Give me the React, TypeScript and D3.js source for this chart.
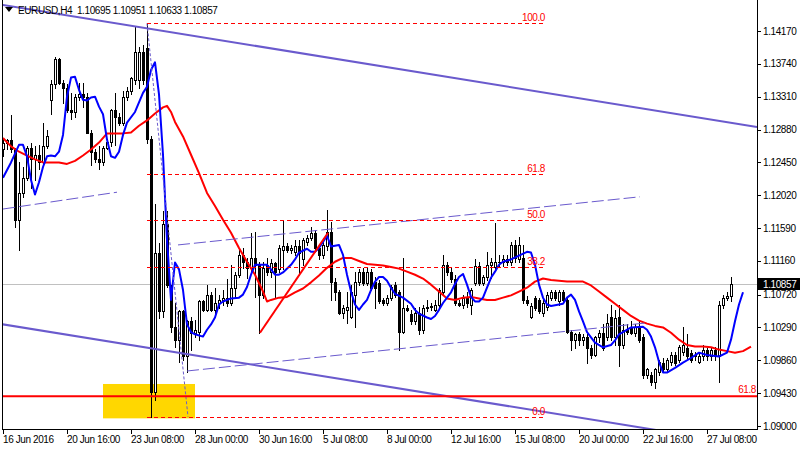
import React from 'react';
import * as d3 from 'd3';

// ---------- DATA ----------
const barOpen = [
  1.1262, 1.1271, 1.1274, 1.1262, 1.1170, 1.1205, 1.1225, 1.1264, 1.1249, 1.1255,
  1.1245, 1.1266, 1.1327, 1.1347, 1.1380, 1.1349, 1.1343, 1.1314, 1.1311, 1.1331,
  1.1334, 1.1330, 1.1284, 1.1259, 1.1249, 1.1245, 1.1264, 1.1272, 1.1314, 1.1304,
  1.1297, 1.1331, 1.1338, 1.1353, 1.1353, 1.1390, 1.1395, 1.1275, 1.0945, 1.1127,
  1.1050, 1.1164, 1.1080, 1.1029, 1.1013, 1.1050, 1.0991, 1.1037, 1.1022, 1.1023,
  1.1063, 1.1052, 1.1072, 1.1052, 1.1061, 1.1065, 1.1068, 1.1061, 1.1081, 1.1098,
  1.1124, 1.1115, 1.1107, 1.1120, 1.1111, 1.1072, 1.1111, 1.1102, 1.1113, 1.1105,
  1.1131, 1.1136, 1.1131, 1.1128, 1.1136, 1.1118, 1.1141, 1.1146, 1.1153, 1.1133,
  1.1124, 1.1135, 1.1154, 1.1089, 1.1075, 1.1048, 1.1052, 1.1043, 1.1072, 1.1089,
  1.1101, 1.1087, 1.1102, 1.1089, 1.1087, 1.1065, 1.1061, 1.1068, 1.1084, 1.1075,
  1.1023, 1.1055, 1.1046, 1.1037, 1.1048, 1.1026, 1.1055, 1.1056, 1.1052, 1.1059,
  1.1076, 1.1111, 1.1102, 1.1092, 1.1061, 1.1059, 1.1069, 1.1059, 1.1087, 1.1109,
  1.1087, 1.1095, 1.1111, 1.1108, 1.1115, 1.1114, 1.1118, 1.1114, 1.1137, 1.1118,
  1.1120, 1.1065, 1.1043, 1.1068, 1.1065, 1.1048, 1.1056, 1.1068, 1.1076, 1.1063,
  1.1076, 1.1065, 1.1023, 1.1013, 1.1020, 1.1013, 1.1016, 1.1002, 1.0993, 1.1016,
  1.1022, 1.1016, 1.1043, 1.1016, 1.1043, 1.1006, 1.1026, 1.1030, 1.1022, 1.1030,
  1.1016, 1.0967, 1.0967, 1.0958, 1.0971, 1.0983, 1.0974, 1.0984, 1.0993, 1.0987,
  1.0997, 1.1002, 1.0996, 1.0991, 1.0984, 1.0991, 1.1000, 1.0991, 1.1000, 1.0991,
  1.1059, 1.1068, 1.10695,
];
const barHigh = [
  1.1276, 1.1276, 1.1307, 1.1264, 1.1245, 1.1239, 1.1267, 1.1271, 1.1266, 1.1268,
  1.1297, 1.1288, 1.1353, 1.1383, 1.1382, 1.1353, 1.1347, 1.1336, 1.1334, 1.1349,
  1.1349, 1.1336, 1.1288, 1.1262, 1.1266, 1.1266, 1.1275, 1.1315, 1.1336, 1.1310,
  1.1338, 1.1344, 1.1357, 1.1423, 1.1396, 1.1399, 1.1427, 1.1280, 1.1190, 1.1140,
  1.1181, 1.1181, 1.1085, 1.1061, 1.1052, 1.1052, 1.1039, 1.1043, 1.1039, 1.1065,
  1.1065, 1.1085, 1.1075, 1.1081, 1.1072, 1.1078, 1.1092, 1.1111, 1.1102, 1.1131,
  1.1133, 1.1120, 1.1153, 1.1154, 1.1115, 1.1114, 1.1120, 1.1118, 1.1115, 1.1137,
  1.1170, 1.1140, 1.1137, 1.1144, 1.1144, 1.1146, 1.1150, 1.1160, 1.1157, 1.1137,
  1.1146, 1.1183, 1.1167, 1.1094, 1.1078, 1.1059, 1.1075, 1.1085, 1.1101, 1.1105,
  1.1107, 1.1107, 1.1105, 1.1095, 1.1091, 1.1068, 1.1072, 1.1085, 1.1088, 1.1078,
  1.1120, 1.1059, 1.1052, 1.1055, 1.1056, 1.1059, 1.1065, 1.1061, 1.1065, 1.1081,
  1.1124, 1.1115, 1.1107, 1.1098, 1.1065, 1.1072, 1.1075, 1.1081, 1.1118, 1.1114,
  1.1098, 1.1128, 1.1120, 1.1166, 1.1124, 1.1124, 1.1124, 1.1141, 1.1144, 1.1148,
  1.1137, 1.1070, 1.1061, 1.1070, 1.1068, 1.1065, 1.1075, 1.1078, 1.1078, 1.1078,
  1.1078, 1.1068, 1.1026, 1.1022, 1.1023, 1.1020, 1.1020, 1.1006, 1.1018, 1.1026,
  1.1033, 1.1046, 1.1059, 1.1052, 1.1059, 1.1033, 1.1033, 1.1037, 1.1033, 1.1037,
  1.1020, 1.0976, 1.0971, 1.0976, 1.0987, 1.0989, 1.0989, 1.0997, 1.0997, 1.1006,
  1.1030, 1.1020, 1.1000, 1.0997, 1.0997, 1.1006, 1.1002, 1.1004, 1.1004, 1.1063,
  1.1072, 1.1075, 1.10951,
];
const barLow = [
  1.1254, 1.1262, 1.1259, 1.1161, 1.1131, 1.1200, 1.1222, 1.1212, 1.1222, 1.1236,
  1.1242, 1.1264, 1.1308, 1.1343, 1.1347, 1.1323, 1.1311, 1.1302, 1.1304, 1.1327,
  1.1318, 1.1283, 1.1242, 1.1245, 1.1236, 1.1241, 1.1262, 1.1266, 1.1268, 1.1294,
  1.1294, 1.1327, 1.1334, 1.1348, 1.1343, 1.1347, 1.1271, 1.0912, 1.0934, 1.1042,
  1.1043, 1.1082, 1.1023, 1.1004, 1.0984, 1.0987, 1.0971, 1.1000, 1.1016, 1.1013,
  1.1050, 1.1050, 1.1050, 1.1048, 1.1055, 1.1059, 1.1057, 1.1059, 1.1069, 1.1095,
  1.1107, 1.1094, 1.1102, 1.1069, 1.1022, 1.1068, 1.1098, 1.1095, 1.1069, 1.1102,
  1.1105, 1.1128, 1.1127, 1.1124, 1.1098, 1.1111, 1.1137, 1.1144, 1.1131, 1.1118,
  1.1120, 1.1131, 1.1065, 1.1065, 1.1046, 1.1042, 1.1035, 1.1042, 1.1029, 1.1085,
  1.1085, 1.1085, 1.1078, 1.1055, 1.1061, 1.1059, 1.1059, 1.1065, 1.1069, 1.1000,
  1.1022, 1.1050, 1.1033, 1.1033, 1.1020, 1.1022, 1.1050, 1.1052, 1.1050, 1.1055,
  1.1072, 1.1098, 1.1089, 1.1059, 1.1057, 1.1055, 1.1056, 1.1046, 1.1085, 1.1085,
  1.1085, 1.1091, 1.1094, 1.1105, 1.1110, 1.1110, 1.1111, 1.1111, 1.1115, 1.1115,
  1.1061, 1.1059, 1.1042, 1.1052, 1.1048, 1.1044, 1.1052, 1.1065, 1.1065, 1.1059,
  1.1061, 1.1022, 1.1000, 1.1002, 1.1006, 1.1006, 1.0983, 1.0989, 1.0991, 1.1010,
  1.1000, 1.1013, 1.1013, 1.1006, 1.0978, 1.1002, 1.1020, 1.1020, 1.1018, 1.1010,
  1.0963, 1.0963, 1.0954, 1.0950, 1.0967, 1.0971, 1.0971, 1.0980, 1.0980, 1.0984,
  1.0993, 1.0989, 1.0984, 1.0987, 1.0982, 1.0987, 1.0987, 1.0987, 1.0987, 1.0957,
  1.1055, 1.1065, 1.10633,
];
const barClose = [
  1.1271, 1.1274, 1.1262, 1.1170, 1.1205, 1.1225, 1.1264, 1.1249, 1.1255, 1.1245,
  1.1266, 1.1279, 1.1347, 1.1380, 1.1349, 1.1343, 1.1314, 1.1311, 1.1331, 1.1334,
  1.1330, 1.1284, 1.1259, 1.1249, 1.1245, 1.1264, 1.1272, 1.1314, 1.1304, 1.1297,
  1.1331, 1.1338, 1.1356, 1.1390, 1.1390, 1.1353, 1.1275, 1.0945, 1.1127, 1.1050,
  1.1164, 1.1085, 1.1029, 1.1013, 1.1050, 1.0991, 1.1037, 1.1022, 1.1026, 1.1063,
  1.1052, 1.1072, 1.1052, 1.1061, 1.1065, 1.1068, 1.1061, 1.1081, 1.1098, 1.1124,
  1.1115, 1.1107, 1.1120, 1.1111, 1.1072, 1.1107, 1.1102, 1.1113, 1.1101, 1.1133,
  1.1136, 1.1131, 1.1133, 1.1136, 1.1127, 1.1144, 1.1146, 1.1153, 1.1133, 1.1124,
  1.1137, 1.1154, 1.1089, 1.1076, 1.1048, 1.1055, 1.1056, 1.1075, 1.1089, 1.1101,
  1.1087, 1.1102, 1.1081, 1.1081, 1.1063, 1.1061, 1.1068, 1.1082, 1.1072, 1.1023,
  1.1055, 1.1052, 1.1037, 1.1048, 1.1026, 1.1055, 1.1056, 1.1057, 1.1059, 1.1078,
  1.1111, 1.1102, 1.1092, 1.1061, 1.1059, 1.1068, 1.1061, 1.1078, 1.1109, 1.1087,
  1.1095, 1.1111, 1.1115, 1.1115, 1.1114, 1.1118, 1.1115, 1.1137, 1.1120, 1.1137,
  1.1065, 1.1061, 1.1057, 1.1055, 1.1050, 1.1061, 1.1072, 1.1076, 1.1068, 1.1076,
  1.1065, 1.1023, 1.1013, 1.1020, 1.1013, 1.1016, 1.1002, 1.0993, 1.1016, 1.1022,
  1.1002, 1.1035, 1.1016, 1.1042, 1.1006, 1.1026, 1.1023, 1.1022, 1.1029, 1.1013,
  1.0967, 1.0974, 1.0958, 1.0974, 1.0984, 1.0974, 1.0987, 1.0993, 1.0983, 1.1004,
  1.1006, 1.0991, 1.0987, 1.0993, 1.0992, 1.1000, 1.0991, 1.1000, 1.0991, 1.1059,
  1.1068, 1.10695, 1.10857,
];

// fast moving average (blue), sampled at bar indices
const blueIdx = [0, 2, 4, 5, 6, 7, 8, 9, 10, 11, 12, 13, 14, 15, 16, 17, 18, 19, 20, 21, 22, 23, 24, 25, 26, 27, 28, 29, 30, 31, 33, 35, 36, 37, 38, 39, 40, 41, 42, 43, 44, 45, 46, 47, 48, 50, 51, 52, 53, 54, 55, 57, 59, 60, 61, 62, 63, 66, 67, 68, 69, 70, 72, 73, 74, 76, 77, 78, 79, 80, 81, 82, 83, 84, 85, 86, 87, 88, 89, 90, 91, 92, 93, 94, 95, 96, 97, 98, 100, 102, 103, 104, 106, 107, 108, 109, 110, 111, 112, 113, 114, 115, 116, 117, 118, 119, 120, 121, 122, 123, 124, 125, 127, 129, 131, 132, 133, 134, 135, 136, 137, 140, 141, 142, 143, 144, 145, 146, 147, 148, 150, 152, 153, 154, 155, 157, 160, 161, 162, 163, 164, 165, 166, 168, 170, 172, 174, 176, 179, 181, 182, 183, 184, 185];
const blueVal = [1.1225, 1.1245, 1.1268, 1.1268, 1.1253, 1.1222, 1.1203, 1.1219, 1.1239, 1.1253, 1.1254, 1.1253, 1.1259, 1.1281, 1.1331, 1.1356, 1.1357, 1.1340, 1.1327, 1.1326, 1.1330, 1.1331, 1.1318, 1.1308, 1.1275, 1.1253, 1.1251, 1.1259, 1.1281, 1.1297, 1.1311, 1.1336, 1.1344, 1.1366, 1.1376, 1.1334, 1.1255, 1.1144, 1.1065, 1.1114, 1.1105, 1.1078, 1.1033, 1.1023, 1.1020, 1.1017, 1.1026, 1.1033, 1.1042, 1.1059, 1.1063, 1.1067, 1.1068, 1.1072, 1.1082, 1.1098, 1.1111, 1.1111, 1.1105, 1.1098, 1.1098, 1.1101, 1.1111, 1.1118, 1.1127, 1.1132, 1.1128, 1.1128, 1.1133, 1.1141, 1.1149, 1.1135, 1.1136, 1.1137, 1.1124, 1.1098, 1.1076, 1.1059, 1.1052, 1.1059, 1.1065, 1.1078, 1.1089, 1.1095, 1.1095, 1.1090, 1.1081, 1.1073, 1.1068, 1.1060, 1.1052, 1.1047, 1.1042, 1.1040, 1.1044, 1.1052, 1.1061, 1.1068, 1.1075, 1.1086, 1.1095, 1.1099, 1.1085, 1.1069, 1.1063, 1.1063, 1.1068, 1.1081, 1.1094, 1.1102, 1.1111, 1.1115, 1.1118, 1.1123, 1.1128, 1.1127, 1.1111, 1.1085, 1.1068, 1.1059, 1.1057, 1.1060, 1.1068, 1.1072, 1.1065, 1.1050, 1.1037, 1.1023, 1.1016, 1.1009, 1.1003, 1.1006, 1.1012, 1.1020, 1.1023, 1.1029, 1.1030, 1.1026, 1.1017, 1.1003, 1.0984, 1.0970, 1.0970, 1.0976, 1.0983, 1.0989, 1.0996, 1.0993, 1.0991, 1.0996, 1.1013, 1.1037, 1.1059, 1.1075];

// slow moving average (red), sampled at bar indices
const redIdx = [0, 2, 4, 6, 8, 10, 12, 14, 16, 18, 20, 22, 24, 26, 28, 30, 32, 34, 36, 38, 40, 41, 42, 43, 45, 47, 49, 51, 53, 55, 57, 59, 61, 63, 65, 66, 67, 69, 71, 73, 75, 77, 79, 81, 83, 85, 87, 89, 91, 93, 95, 97, 99, 101, 103, 105, 107, 109, 111, 113, 115, 117, 119, 121, 123, 125, 127, 129, 131, 133, 135, 137, 139, 141, 143, 145, 147, 149, 151, 153, 155, 157, 159, 161, 163, 165, 167, 169, 171, 173, 175, 177, 179, 181, 183, 185, 187];
const redVal = [1.1277, 1.1266, 1.1259, 1.1254, 1.1249, 1.1245, 1.1245, 1.1245, 1.1243, 1.1247, 1.1254, 1.1262, 1.1271, 1.1283, 1.1283, 1.1283, 1.1284, 1.1293, 1.1300, 1.1309, 1.1317, 1.1319, 1.1311, 1.1298, 1.1279, 1.1255, 1.1231, 1.1205, 1.1188, 1.1170, 1.1153, 1.1133, 1.1115, 1.1098, 1.1076, 1.1063, 1.1065, 1.1068, 1.1069, 1.1075, 1.1080, 1.1088, 1.1097, 1.1107, 1.1115, 1.1120, 1.1120, 1.1116, 1.1112, 1.1111, 1.1110, 1.1108, 1.1106, 1.1102, 1.1098, 1.1093, 1.1085, 1.1076, 1.1067, 1.1065, 1.1068, 1.1069, 1.1067, 1.1065, 1.1065, 1.1068, 1.1071, 1.1076, 1.1081, 1.1089, 1.1093, 1.1091, 1.1090, 1.1089, 1.1089, 1.1089, 1.1084, 1.1076, 1.1068, 1.1060, 1.1052, 1.1044, 1.1038, 1.1034, 1.1031, 1.1029, 1.1022, 1.1013, 1.1006, 1.1004, 1.1004, 1.1003, 1.1000, 1.0998, 1.0996, 1.0998, 1.1004];

const priceTicks = [1.1417, 1.1374, 1.1331, 1.1288, 1.1245, 1.1202, 1.1159, 1.1116, 1.1072, 1.1029, 1.0986, 1.0943, 1.0900];
const priceTickLabels = ['1.14170', '1.13740', '1.13310', '1.12880', '1.12450', '1.12020', '1.11590', '1.11160', '1.10720', '1.10290', '1.09860', '1.09430', '1.09000'];
const timeTickBars = [0, 16, 32, 48, 64, 80, 96, 112, 128, 144, 160, 176];
const timeTickLabels = ['16 Jun 2016', '20 Jun 16:00', '23 Jun 08:00', '28 Jun 00:00', '30 Jun 16:00', '5 Jul 08:00', '8 Jul 00:00', '12 Jul 16:00', '15 Jul 08:00', '20 Jul 00:00', '22 Jul 16:00', '27 Jul 08:00'];

const headerText = 'EURUSD,H4  1.10695 1.10951 1.10633 1.10857';
const lastPrice = 1.10857;
const lastPriceLabel = '1.10857';

// Fibonacci retracement
const fibHigh = 1.1427;
const fibLow = 1.0912;
const fibStartBar = 36;
const fibEndBar = 135.5;
const fibBaseEndBar = 46.25;
const fibLevels = [0, 0.382, 0.5, 0.618, 1];
const fibLabels = ['0.0', '38.2', '50.0', '61.8', '100.0'];

// horizontal level
const hLevelPrice = 1.0939;
const hLevelLabel = '61.8';

// highlighted zone
const zoneBars = [25, 48];
const zonePrices = [1.0955, 1.0910];

// trend channel (thick) – two anchor points each
const channelTop = [[0, 1.1451], [180, 1.12986]];
const channelBottom = [[0, 1.1033], [150, 1.0906]];
// thin dashed trend lines (segments)
const dashedSegments = [
  [[0, 1.1184], [28.5, 1.1206]],
  [[43.75, 1.1137], [159.25, 1.1200]],
  [[46, 1.0972], [161, 1.1035]],
];
// red trend line
const redTrend = [[64.25, 1.1022], [81.25, 1.1153]];

const FONT = "'Liberation Sans', Arial, sans-serif";
const CH = '#6A5ACD';

export default function App() {
  const PL = 2, PR = 757, PB = 429;
  const x = d3.scaleLinear().domain([0, 182]).range([3, 731]);
  const y = d3.scaleLinear().domain([1.09, 1.1417]).range([426, 31]);

  const bluePts: [number, number][] = blueIdx.map((b, k) => [x(b), y(blueVal[k])]);
  const redPts: [number, number][] = redIdx.map((b, k) => [x(b), y(redVal[k])]);
  const lineGen = d3.line<[number, number]>().x(d => d[0]).y(d => d[1]).curve(d3.curveLinear);

  const extend = (pts: number[][]) => {
    const x1 = x(pts[0][0]), y1 = y(pts[0][1]);
    const x2 = x(pts[1][0]), y2 = y(pts[1][1]);
    const s = (y2 - y1) / (x2 - x1);
    return { x1: PL, y1: y1 + s * (PL - x1), x2: PR, y2: y1 + s * (PR - x1) };
  };
  const ct = extend(channelTop);
  const cb = extend(channelBottom);

  const fibRange = fibHigh - fibLow;
  const ts = { fontFamily: FONT, fontSize: 10, letterSpacing: '-0.4px' } as React.CSSProperties;

  return (
    <svg width={800} height={450} style={{ position: 'fixed', left: 0, top: 0, background: '#fff' }}>
      <defs>
        <clipPath id="plotClip">
          <rect x={PL + 1} y={0} width={PR - PL - 1} height={PB} />
        </clipPath>
      </defs>
      <rect x={0} y={0} width={800} height={450} fill="#fff" />

      <g clipPath="url(#plotClip)">
        {/* highlighted zone */}
        <rect x={x(zoneBars[0])} y={y(zonePrices[0])} width={x(zoneBars[1]) - x(zoneBars[0])} height={y(zonePrices[1]) - y(zonePrices[0])} fill="#FFD700" />
        {/* current price line */}
        <line x1={PL} x2={PR} y1={Math.round(y(lastPrice)) + 0.5} y2={Math.round(y(lastPrice)) + 0.5} stroke="#C0C0C0" strokeWidth={1} />

        {/* candles */}
        <g shapeRendering="crispEdges">
          {barOpen.map((o, i) => {
            const c = barClose[i];
            const cx = Math.round(x(i));
            const yo = Math.round(y(o)), yc = Math.round(y(c));
            const yh = Math.round(y(barHigh[i])), yl = Math.round(y(barLow[i]));
            const top = Math.min(yo, yc), bot = Math.max(yo, yc);
            const bull = c >= o;
            return (
              <g key={i}>
                <line x1={cx + 0.5} x2={cx + 0.5} y1={yh} y2={yl + 1} stroke="#000" strokeWidth={1} />
                {bot - top < 1 ? (
                  <line x1={cx - 1} x2={cx + 2} y1={top + 0.5} y2={top + 0.5} stroke="#000" strokeWidth={1} />
                ) : (
                  <rect x={cx - 0.5} y={top + 0.5} width={2} height={bot - top} fill={bull ? '#fff' : '#000'} stroke="#000" strokeWidth={1} />
                )}
              </g>
            );
          })}
        </g>

        {/* moving averages */}
        <path d={lineGen(redPts) || ''} fill="none" stroke="#FF0000" strokeWidth={2} strokeLinejoin="round" />
        <path d={lineGen(bluePts) || ''} fill="none" stroke="#0000FF" strokeWidth={2} strokeLinejoin="round" />

        {/* trend channel */}
        <line {...ct} stroke={CH} strokeWidth={2} />
        <line {...cb} stroke={CH} strokeWidth={2} />
        {dashedSegments.map((s, k) => (
          <line key={k} x1={x(s[0][0])} y1={y(s[0][1])} x2={x(s[1][0])} y2={y(s[1][1])} stroke={CH} strokeWidth={1} strokeDasharray="12,4" />
        ))}

        {/* red trend line */}
        <line x1={x(redTrend[0][0])} y1={y(redTrend[0][1])} x2={x(redTrend[1][0])} y2={y(redTrend[1][1])} stroke="#FF0000" strokeWidth={2} />

        {/* fibonacci */}
        <line x1={x(fibStartBar)} y1={y(fibHigh)} x2={x(fibBaseEndBar)} y2={y(fibLow)} stroke={CH} strokeWidth={1} strokeDasharray="3,2" />
        {fibLevels.map((lv, k) => {
          const yy = Math.round(y(fibLow + lv * fibRange)) + 0.5;
          return (
            <g key={k}>
              <line x1={x(fibStartBar)} x2={x(fibEndBar)} y1={yy} y2={yy} stroke="#FF0000" strokeWidth={1} strokeDasharray="4,3" />
              <text x={x(fibEndBar)} y={yy - 3} textAnchor="end" fill="#FF0000" style={ts}>{fibLabels[k]}</text>
            </g>
          );
        })}

        {/* horizontal level */}
        <line x1={PL} x2={PR} y1={y(hLevelPrice)} y2={y(hLevelPrice)} stroke="#FF0000" strokeWidth={2} />
        <text x={PR - 1} y={y(hLevelPrice) - 3} textAnchor="end" fill="#FF0000" style={ts}>{hLevelLabel}</text>
      </g>

      {/* frame */}
      <g shapeRendering="crispEdges">
        <line x1={PL + 0.5} x2={PL + 0.5} y1={0} y2={PB + 0.5} stroke="#000" />
        <line x1={PR + 0.5} x2={PR + 0.5} y1={0} y2={PB + 0.5} stroke="#000" />
        <line x1={PL} x2={PR + 1} y1={PB + 0.5} y2={PB + 0.5} stroke="#000" />
        {priceTicks.map((p, k) => (
          <line key={k} x1={PR + 1} x2={PR + 4} y1={Math.round(y(p)) + 0.5} y2={Math.round(y(p)) + 0.5} stroke="#000" />
        ))}
        {timeTickBars.map((b, k) => (
          <line key={k} x1={Math.round(x(b)) + 0.5} x2={Math.round(x(b)) + 0.5} y1={PB} y2={PB + 5} stroke="#000" />
        ))}
      </g>

      {/* price axis labels */}
      {priceTicks.map((p, k) => (
        <text key={k} x={PR + 6} y={y(p) + 3.5} fill="#000" style={ts}>{priceTickLabels[k]}</text>
      ))}
      {/* last price tag */}
      <rect x={PR + 1} y={Math.round(y(lastPrice)) - 6} width={43} height={12} fill="#000" />
      <text x={PR + 6} y={y(lastPrice) + 3.5} fill="#fff" style={ts}>{lastPriceLabel}</text>

      {/* time axis labels */}
      {timeTickBars.map((b, k) => (
        <text key={k} x={Math.round(x(b))} y={443} fill="#000" style={ts}>{timeTickLabels[k]}</text>
      ))}

      {/* header */}
      <polygon points="5,7 13,7 9,12" fill="#000" />
      <text x={18} y={14} fill="#000" style={{ ...ts, whiteSpace: 'pre' }}>{headerText}</text>
    </svg>
  );
}
